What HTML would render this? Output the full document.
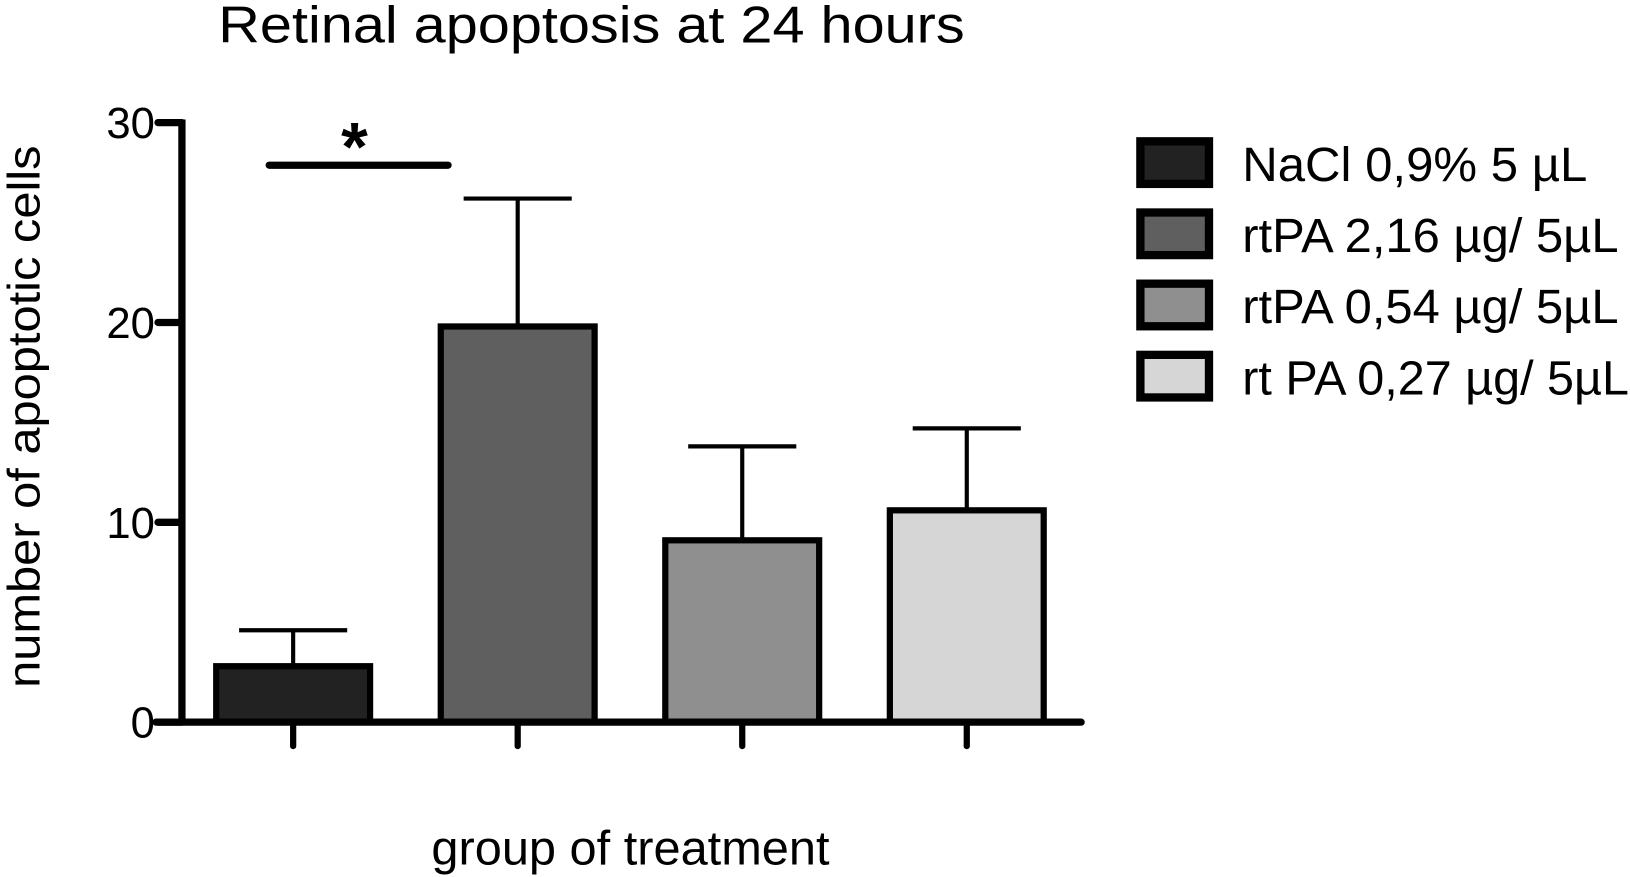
<!DOCTYPE html>
<html><head><meta charset="utf-8"><style>
html,body{margin:0;padding:0;background:#fff;}
svg{display:block;font-family:"Liberation Sans",Arial,sans-serif;}
</style></head><body>
<svg id="chart" width="1630" height="877" viewBox="0 0 1568 844" preserveAspectRatio="none" xmlns="http://www.w3.org/2000/svg">
<text x="210" y="41" font-size="50" textLength="718" lengthAdjust="spacingAndGlyphs">Retinal apoptosis at 24 hours</text>
<text transform="translate(38,401) rotate(-90)" font-size="44" text-anchor="middle" textLength="522" lengthAdjust="spacingAndGlyphs">number of apoptotic cells</text>
<text x="415" y="832" font-size="46" textLength="383" lengthAdjust="spacingAndGlyphs">group of treatment</text>
<g id="plot"></g>
<g id="legend"></g>
</svg>
<script>
const categories=["NaCl 0,9% 5 µL","rtPA 2,16 µg/ 5µL","rtPA 0,54 µg/ 5µL","rt PA 0,27 µg/ 5µL"];
const means=[2.8,19.8,9.1,10.6];
const errors=[1.8,6.4,4.7,4.1];
const yTicks=[0,10,20,30];
const fills=["#222222","#5f5f5f","#8f8f8f","#d6d6d6"];
const legendWidths=[332,362,362,372];
const NS="http://www.w3.org/2000/svg";
const y0=695,y30=118,axX=175;
function yScale(v){return y0-(y0-y30)*v/30;}
function xCenter(i){return 282+i*216;}
const barW=148;
const plot=document.getElementById('plot');
function mk(tag,attrs,parent){const e=document.createElementNS(NS,tag);for(const k in attrs)e.setAttribute(k,attrs[k]);parent.appendChild(e);return e;}
categories.forEach((c,i)=>{
  const cx=xCenter(i),top=yScale(means[i]),et=yScale(means[i]+errors[i]);
  const eb=mk('line',{x1:cx,x2:cx,y1:top,y2:et,stroke:'#000','stroke-width':4},plot);
  
  
  const cap=mk('line',{x1:cx-52,x2:cx+52,y1:et,y2:et,stroke:'#000','stroke-width':4},plot);
  
  
  const r=mk('rect',{x:cx-barW/2,y:top,width:barW,height:y0-top,fill:fills[i],stroke:'#000','stroke-width':6},plot);
  
  
  const t=mk('line',{x1:cx,x2:cx,y1:y0,y2:718,stroke:'#000','stroke-width':6,'stroke-linecap':'round'},plot);
  
  
});
const ya=mk('line',{x1:axX,x2:axX,y1:y30-3,y2:y0+3,stroke:'#000','stroke-width':7},plot);


const xa=mk('line',{x1:150,x2:1040,y1:y0,y2:y0,stroke:'#000','stroke-width':7,'stroke-linecap':'round'},plot);


yTicks.forEach(v=>{
  const y=yScale(v);
  const tk=mk('line',{x1:152,x2:axX,y1:y,y2:y,stroke:'#000','stroke-width':7,'stroke-linecap':'round'},plot);
  
  
  const tl=mk('text',{x:149,y:y+15,'font-size':42,'text-anchor':'end'},plot);
  tl.textContent=v;
  
  
});
const sig=mk('line',{x1:259,x2:431,y1:159,y2:159,stroke:'#000','stroke-width':7,'stroke-linecap':'round'},plot);


const ast=mk('text',{x:341,y:164,'font-size':66,'font-weight':'bold','text-anchor':'middle'},plot);
ast.textContent='*';


const lg=document.getElementById('legend');
categories.forEach((c,i)=>{
  const y=136+i*68.5;
  const g=mk('g',{},lg);
  
  
  mk('rect',{x:1097,y:y,width:66,height:41,fill:fills[i],stroke:'#000','stroke-width':8},g);
  const t=mk('text',{x:1195,y:y+38,'font-size':46,textLength:legendWidths[i],lengthAdjust:'spacingAndGlyphs'},g);
  t.textContent=c;
});
</script>
</body></html>
